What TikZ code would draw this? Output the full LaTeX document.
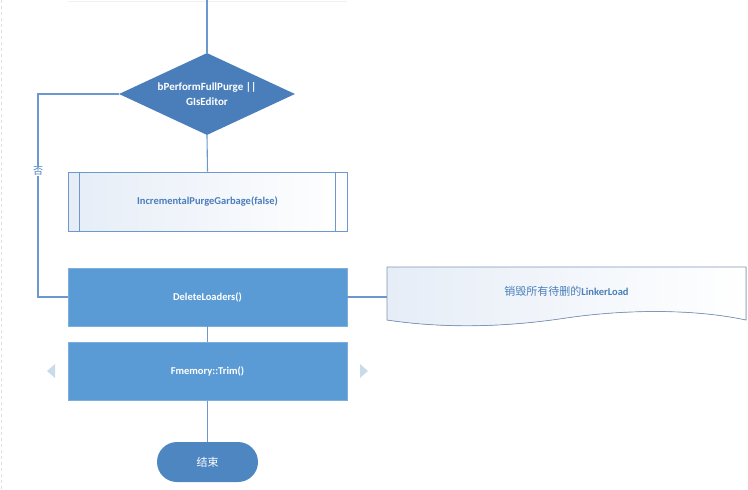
\documentclass[tikz,border=0pt]{standalone}
\usepackage{fontspec}
\setmainfont{Carlito}
\newfontfamily\cjk{Noto Sans CJK SC}
\usepackage{xcolor}
\usetikzlibrary{positioning,calc,shapes.geometric}

\definecolor{wireblue}{HTML}{6A98CF}
\definecolor{diamblue}{HTML}{4A7EBB}
\definecolor{boxblue}{HTML}{5B9BD5}
\definecolor{endblue}{HTML}{4E86C1}
\definecolor{textblue}{HTML}{4A7EBB}
\definecolor{paleblue}{HTML}{E6EDF7}
\definecolor{notedraw}{HTML}{7F97B8}
\definecolor{arrowgray}{HTML}{C9DBE9}

\begin{document}
\begin{tikzpicture}[x=1pt, y=-1pt,
    decision/.style={diamond, fill=diamblue, aspect=2.15,
                     minimum width=176pt, minimum height=82pt, inner sep=0pt,
                     align=center, text=white, font=\bfseries\fontsize{11}{15}\selectfont},
    subproc/.style={rectangle, draw=wireblue, line width=0.8pt,
                    left color=paleblue, right color=white,
                    minimum width=279pt, minimum height=59pt,
                    text=textblue, font=\bfseries\fontsize{10.5}{12}\selectfont},
    process/.style={rectangle, fill=boxblue, draw=boxblue!80!white, line width=0.6pt,
                    minimum width=279pt, minimum height=58pt,
                    text=white, font=\bfseries\fontsize{10.5}{12}\selectfont},
    terminal/.style={rectangle, rounded corners=20pt, fill=endblue,
                     minimum width=101pt, minimum height=40pt,
                     text=white, font=\cjk\fontsize{11}{12}\selectfont},
    notetext/.style={rectangle, minimum width=359pt, minimum height=20pt,
                     text=textblue, font=\bfseries\fontsize{10.5}{12}\selectfont},
    wire/.style={draw=wireblue, line width=1.1pt},
    navtip/.style={fill=arrowgray, draw=none}
]
\useasboundingbox (0,0) rectangle (748,490);

% --- page edges ---
\draw[gray!25, dashed, line width=0.6pt] (1,0) -- (1,490);
\draw[gray!12, line width=0.8pt] (68,1) -- (347,1);

% --- main column ---
\coordinate (topin) at (207,0);
\node[decision] (purge) at (207,94) {bPerformFullPurge ||\\GIsEditor};
\node[subproc] (incr) at (207.5,201.5) {IncrementalPurgeGarbage(false)};
\node[process] (del) at (207.5,297) {DeleteLoaders()};
\node[process] (trim) at (207.5,371.5) {Fmemory::Trim()};
\node[terminal] (done) at (207.5,462) {结束};

% --- subroutine side bars ---
\draw[wireblue, line width=0.8pt] ($(incr.north west)+(12,0)$) -- ($(incr.south west)+(12,0)$);
\draw[wireblue, line width=0.8pt] ($(incr.north east)+(-12,0)$) -- ($(incr.south east)+(-12,0)$);

% --- note shape on the right ---
\fill[left color=paleblue, right color=white]
    (387,267) -- (746,267) -- (746,320)
    .. controls (690,308) and (620,310) .. (566,318)
    .. controls (500,328) and (440,328) .. (387,320) -- cycle;
\draw[notedraw, line width=0.7pt]
    (387,267) -- (746,267) -- (746,320)
    .. controls (690,308) and (620,310) .. (566,318)
    .. controls (500,328) and (440,328) .. (387,320) -- cycle;
\node[notetext] (note) at (566.5,291) {{\cjk\mdseries\fontsize{11}{12}\selectfont 销毁所有待删的}LinkerLoad};

% --- connectors ---
\draw[wire] (topin) -- (purge.north);
\draw[wire] (purge.south) -- (incr.north);
\coordinate (nocorner) at (38,94);
\draw[wire] (purge.west) -- (nocorner) |- node[pos=0.19, fill=white, inner sep=1pt,
    text=textblue, font=\cjk\fontsize{10}{11}\selectfont] {否} (del.west);
\draw[wire] (del.east) -- (note.west |- del.east);
\draw[wire] (del.south) -- (trim.north);
\draw[wire] (trim.south) -- (done.north);

% --- navigation tips ---
\fill[navtip] (47,371) -- (55,364) -- (55,378) -- cycle;
\fill[navtip] (368,371) -- (360,364) -- (360,378) -- cycle;

\end{tikzpicture}
\end{document}
